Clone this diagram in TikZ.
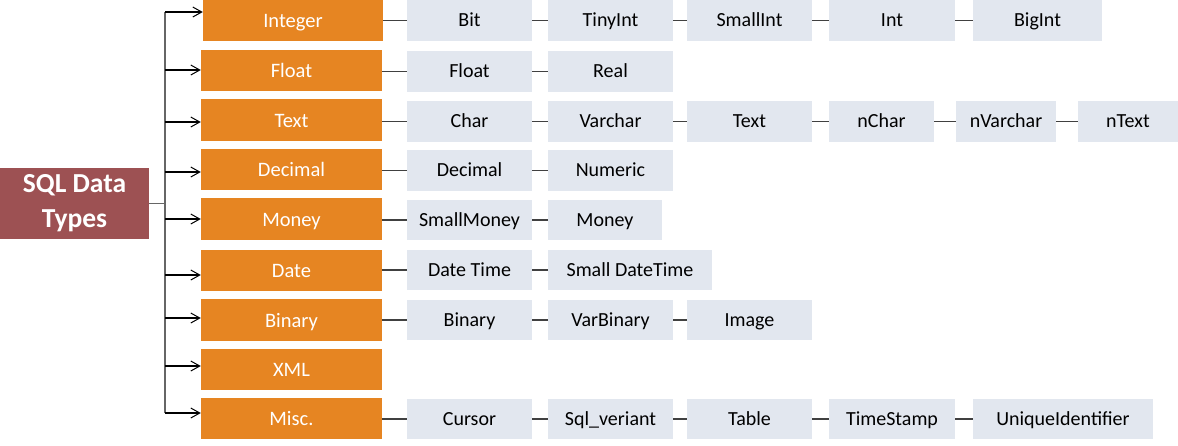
\documentclass[tikz,border=0pt]{standalone}
\usepackage{fontspec}
\setmainfont{Carlito}
\usetikzlibrary{arrows.meta}
\definecolor{rootC}{HTML}{9D5153}
\definecolor{catC}{HTML}{E68522}
\definecolor{subC}{HTML}{E2E7EF}
\definecolor{lineC}{HTML}{404040}
\begin{document}
\begin{tikzpicture}[x=1pt,y=-1pt,
  rootbox/.style={fill=rootC,text=white,inner sep=0pt,align=center,
    minimum width=149pt,minimum height=71pt,
    font=\fontsize{27.5}{35}\selectfont\bfseries},
  catbox/.style={fill=catC,text=white,inner sep=0pt,
    minimum width=181pt,minimum height=41pt,
    text height=18.5pt,text depth=4pt,
    font=\fontsize{20.5}{24}\selectfont},
  subbox/.style={fill=subC,text=black,inner sep=0pt,
    minimum width=125pt,minimum height=41pt,
    text height=16.5pt,text depth=4pt,
    font=\fontsize{20}{24}\selectfont},
  link/.style={draw=lineC,line width=1.2pt},
  branch/.style={draw=black,line width=1.1pt,-{Straight Barb[length=9pt,width=10pt,line width=1pt]}},
  trunk/.style={draw=lineC!80,line width=1.4pt}]
\useasboundingbox (0,0) rectangle (1178,445);

% root
\node[rootbox] (root) at (74.5,203.5) {SQL Data\\Types};

% categories
\node[catbox,minimum width=180pt] (int) at (293,20.5) {Integer};
\node[catbox] (flt) at (291.5,70.5) {Float};
\node[catbox,minimum height=42pt] (txt) at (291.5,120) {Text};
\node[catbox] (dec) at (291.5,169.5) {Decimal};
\node[catbox,minimum height=42pt] (mon) at (291.5,219) {Money};
\node[catbox] (dat) at (291.5,270.5) {Date};
\node[catbox,minimum height=42pt] (bin) at (291.5,320) {Binary};
\node[catbox] (xml) at (291.5,369.5) {XML};
\node[catbox] (msc) at (291.5,418.5) {Misc.};

% trunk and branches
\coordinate (tr) at (165,203.5);
\coordinate (ttop) at (165,12);
\coordinate (tbot) at (165,413);
\draw[trunk] (root.east) -- (tr);
\draw[trunk] (ttop) -- (tbot);
\foreach \n/\y in {int/12,flt/70,txt/122,dec/172,mon/219,dat/275,bin/318,xml/366,msc/413}{
  \coordinate (b-\n) at (165,\y);
  \draw[branch] (b-\n) -- (b-\n -| \n.west);
}

% Integer row
\node[subbox] (i1) at (469.5,20.5) {Bit};
\node[subbox] (i2) at (610.5,20.5) {TinyInt};
\node[subbox] (i3) at (749.5,20.5) {SmallInt};
\node[subbox,minimum width=126pt] (i4) at (892,20.5) {Int};
\node[subbox,minimum width=129pt] (i5) at (1037.5,20.5) {BigInt};
% Float row
\node[subbox] (f1) at (469.5,71.5) {Float};
\node[subbox] (f2) at (610.5,71.5) {Real};
% Text row
\node[subbox] (t1) at (469.5,121.5) {Char};
\node[subbox] (t2) at (610.5,121.5) {Varchar};
\node[subbox] (t3) at (749.5,121.5) {Text};
\node[subbox,minimum width=105pt] (t4) at (881.5,121.5) {nChar};
\node[subbox,minimum width=100pt] (t5) at (1006,121.5) {nVarchar};
\node[subbox,minimum width=100pt] (t6) at (1128,121.5) {nText};
% Decimal row
\node[subbox] (d1) at (469.5,170.5) {Decimal};
\node[subbox] (d2) at (610.5,170.5) {Numeric};
% Money row
\node[subbox,minimum height=40pt] (m1) at (469.5,220) {SmallMoney};
\node[subbox,minimum height=40pt,minimum width=114pt] (m2) at (605,220) {Money};
% Date row
\node[subbox,minimum height=40pt] (a1) at (469.5,270) {Date Time};
\node[subbox,minimum height=40pt,minimum width=164pt] (a2) at (630,270) {Small DateTime};
% Binary row
\node[subbox,minimum height=40pt] (n1) at (469.5,320) {Binary};
\node[subbox,minimum height=40pt] (n2) at (610.5,320) {VarBinary};
\node[subbox,minimum height=40pt] (n3) at (749.5,320) {Image};
% Misc row
\node[subbox,minimum height=40pt] (s1) at (469.5,419) {Cursor};
\node[subbox,minimum height=40pt] (s2) at (610.5,419) {Sql\_veriant};
\node[subbox,minimum height=40pt] (s3) at (749.5,419) {Table};
\node[subbox,minimum height=40pt,minimum width=126pt] (s4) at (892,419) {TimeStamp};
\node[subbox,minimum height=40pt,minimum width=180pt] (s5) at (1063,419) {UniqueIdentifier};

% chains
\foreach \a/\b in {int/i1,i1/i2,i2/i3,i3/i4,i4/i5,
                   flt/f1,f1/f2,
                   txt/t1,t1/t2,t2/t3,t3/t4,t4/t5,t5/t6,
                   dec/d1,d1/d2,
                   mon/m1,m1/m2,
                   dat/a1,a1/a2,
                   bin/n1,n1/n2,n2/n3,
                   msc/s1,s1/s2,s2/s3,s3/s4,s4/s5}{
  \draw[link] (\b.west) -- (\b.west -| \a.east);
}
\end{tikzpicture}
\end{document}
